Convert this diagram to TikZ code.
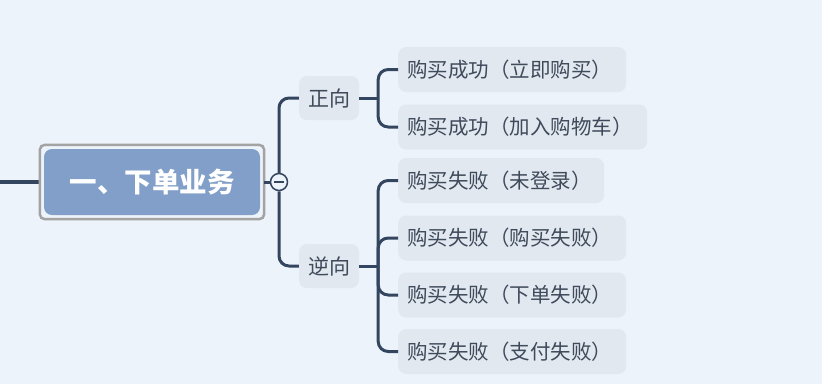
\documentclass[tikz,border=0pt]{standalone}
\usepackage{fontspec}
\setmainfont{Noto Sans CJK SC}
\definecolor{bg}{HTML}{EDF3FA}
\definecolor{leaffill}{HTML}{E1E8F0}
\definecolor{linec}{HTML}{344560}
\definecolor{txt}{HTML}{3F4A5A}
\definecolor{mainblue}{HTML}{819FC8}
\definecolor{bordergray}{HTML}{A3A3A3}
\begin{document}
\begin{tikzpicture}[x=1pt,y=-1pt,
  leaf/.style={fill=leaffill, rounded corners=8pt, anchor=west, minimum height=45pt, inner xsep=9pt, inner ysep=0pt, text=txt, font=\fontsize{20.5}{20.5}\selectfont, align=left},
  mid/.style={fill=leaffill, rounded corners=8pt, minimum width=60pt, minimum height=44pt, inner sep=0pt, text=txt, font=\fontsize{21}{21}\selectfont},
  conn/.style={draw=linec, line width=3pt, rounded corners=10pt}
]
\fill[bg] (0,0) rectangle (822,384);
\useasboundingbox (0,0) rectangle (822,384);
% main node
\node (main) [fill=mainblue, rounded corners=8pt, minimum width=216pt, minimum height=66pt, inner sep=0pt, text=white, font=\fontsize{27.5}{27.5}\selectfont\bfseries] at (152,182) {一、下单业务};
\coordinate (L) at (0,182);
\draw[linec, line width=4pt] (L) -- ([xshift=-4]main.west);
\draw[bordergray, line width=2.5pt, rounded corners=5pt] ([shift={(-4,-4)}]main.north west) rectangle ([shift={(4,4)}]main.south east);
% toggle
\node (tog) [circle, draw=linec, line width=1.5pt, fill=bg, minimum size=17pt, inner sep=0pt] at (279,182) {};
\draw[conn] ([xshift=4]main.east) -- (tog.west);
% mid nodes
\node (zx) [mid] at (329,98) {正向};
\node (nx) [mid] at (329,266) {逆向};
\draw[conn] (tog.north) |- (zx.west);
\draw[conn] (tog.south) |- (nx.west);
\draw[linec, line width=1.5pt] ([xshift=-5]tog.center) -- ([xshift=5]tog.center);
% leaves
\node (c1) [leaf, text width=210pt] at (398,69.5) {购买成功（立即购买）};
\node (c2) [leaf, text width=231pt] at (398,127) {购买成功（加入购物车）};
\node (c3) [leaf, text width=188pt] at (398,180.5) {购买失败（未登录）};
\node (c4) [leaf, text width=210pt] at (398,238) {购买失败（购买失败）};
\node (c5) [leaf, text width=210pt] at (398,295) {购买失败（下单失败）};
\node (c6) [leaf, text width=210pt] at (398,351.5) {购买失败（支付失败）};
% connectors
\draw[conn] (zx.east) -- ([xshift=19]zx.east);
\draw[conn] ([xshift=19]zx.east) |- (c1.west);
\draw[conn] ([xshift=19]zx.east) |- (c2.west);
\draw[conn] (nx.east) -- ([xshift=19]nx.east);
\foreach \c in {c3,c4,c5,c6} \draw[conn] ([xshift=19]nx.east) |- (\c.west);
\end{tikzpicture}
\end{document}
